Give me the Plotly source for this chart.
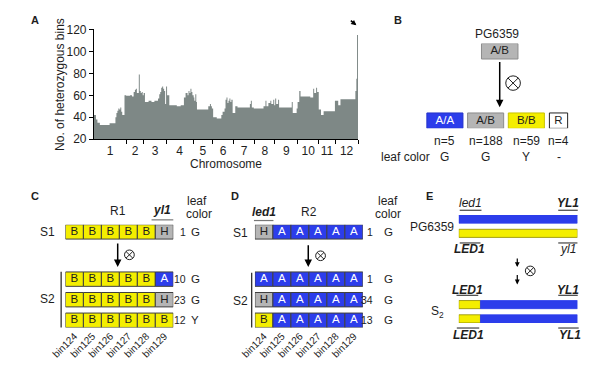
import plotly.graph_objects as go

W, H = 607, 380
FONT = "Liberation Sans, Arial, Helvetica, sans-serif"
INK = "#1e1e1e"
BLUE = "#2C3DEB"
YELLOW = "#F4EE00"
GRAY = "#B5B5B5"
AREA = "#7E8886"

# ---------------- Panel A data ----------------
bin_pos = [0, 2, 3.5, 6, 16, 22, 23, 24, 25, 26,
           27, 28, 29, 31.3, 33, 37, 39, 40.7, 42, 43,
           44, 46, 47, 48, 49, 50, 51, 52.3, 56, 59,
           62, 65.7, 67, 68, 69, 70, 71, 72, 73, 74,
           75, 77.3, 85, 89, 92.3, 94, 96, 97, 98, 99,
           100, 101, 102.3, 103, 104, 105, 105.7, 117.3, 119, 120,
           121, 122.3, 126, 130.7, 132, 134, 135, 136, 137, 138,
           139, 140, 141, 142.3, 145, 147.3, 160, 161, 162, 164,
           174, 176, 177, 179, 181, 182, 184, 185, 186, 187,
           189, 190, 203, 204, 207.3, 208, 209, 210.7, 212, 219,
           222, 225, 226, 228, 229, 230.7, 233, 235.7, 247.3, 250.7,
           253, 268.3, 269.3, 270, 271]
het_bins = [42, 38, 35, 33, 34.5, 40, 44, 46, 48, 47,
            49, 45, 42, 60, 59.5, 60, 59, 63, 65, 66,
            62, 79, 64, 62, 63, 60, 62, 54, 55, 54,
            55, 57, 61, 63, 67, 68, 66, 64, 52, 68,
            60, 51, 50, 51, 58, 62, 60, 64, 62, 66,
            63, 60, 58, 55, 61, 54, 47, 50, 52, 50,
            48, 40, 39, 42, 45, 48, 56, 58, 53, 55,
            57, 54, 56, 44, 50, 49, 52, 55, 49, 48,
            50, 55, 50, 53, 55, 52, 56, 51, 57, 52,
            56, 49, 54, 44, 44, 48, 54, 64, 59, 59,
            58, 66, 62, 67, 63, 47, 42, 45.5, 55, 51,
            56.5, 64, 75, 115, 115]
chrom_ends = [33.3, 51.3, 74, 101.7, 121.7, 143.3, 165, 185.7, 209, 230.7, 247.5, 271]
chrom_names = ["1", "2", "3", "4", "5", "6", "7", "8", "9", "10", "11", "12"]
y_ticks = [20, 40, 60, 80, 100, 120]

# ---------------- Panel B data ----------------
b_parent = "PG6359"
b_parent_geno = "A/B"
b_classes = ["A/A", "A/B", "B/B", "R"]
b_counts = [5, 188, 59, 4]
b_leaf = ["G", "G", "Y", "-"]

# ---------------- Panels C / D data ----------------
bins = ["bin124", "bin125", "bin126", "bin127", "bin128", "bin129"]
c_rows = [["B", "B", "B", "B", "B", "H"],
          ["B", "B", "B", "B", "B", "A"],
          ["B", "B", "B", "B", "B", "H"],
          ["B", "B", "B", "B", "B", "B"]]
c_counts = [1, 10, 23, 12]
c_leaf = ["G", "G", "G", "Y"]
d_rows = [["H", "A", "A", "A", "A", "A"],
          ["A", "A", "A", "A", "A", "A"],
          ["H", "A", "A", "A", "A", "A"],
          ["B", "A", "A", "A", "A", "A"]]
d_counts = [1, 1, 34, 13]
d_leaf = ["G", "G", "G", "G"]

# ---------------- Panel E data ----------------
e_breakpoint = 0.183
e_homologs = [["A"], ["B"], ["B", "A"], ["B", "A"]]
e_breaks = [[], [], [e_breakpoint], [e_breakpoint]]

geno_fill = {"A": BLUE, "B": YELLOW, "H": GRAY}
geno_text = {"A": "white", "B": INK, "H": INK}


def fx(px):
    return px / W


def fy(py):
    return 1 - py / H


fig = go.Figure()
ann = []
shp = []


def txt(px, py, s, size=12, xanchor="center", color=INK, family=FONT, **kw):
    d = dict(x=fx(px), y=fy(py), xref="paper", yref="paper", text=s, showarrow=False,
             xanchor=xanchor, yanchor="middle", font=dict(size=size, color=color, family=family))
    d.update(kw)
    return d


def arrow(px, py, dy, width=1.5, size=1.0):
    return dict(x=fx(px), y=fy(py), xref="paper", yref="paper", text="", showarrow=True,
                ax=0, ay=-dy, axref="pixel", ayref="pixel", arrowhead=2, arrowsize=size,
                arrowwidth=width, arrowcolor="black", standoff=0, startstandoff=0)


def line(x0, y0, x1, y1, color=INK, width=1):
    return dict(type="line", xref="paper", yref="paper", x0=fx(x0), y0=fy(y0), x1=fx(x1), y1=fy(y1),
                line=dict(color=color, width=width))


def otimes(cx, cy, r, width=1):
    out = [dict(type="circle", xref="paper", yref="paper", x0=fx(cx - r), x1=fx(cx + r),
                y0=fy(cy + r), y1=fy(cy - r), line=dict(color=INK, width=width))]
    k = r * 0.7071
    out.append(line(cx - k, cy - k, cx + k, cy + k, width=width))
    out.append(line(cx - k, cy + k, cx + k, cy - k, width=width))
    return out


# ================= Panel A =================
fig.add_trace(go.Scatter(x=bin_pos, y=het_bins, mode="lines", line=dict(width=0, shape="hv"),
                         fill="tozeroy", fillcolor=AREA, hoverinfo="skip", xaxis="x", yaxis="y"))
chrom_starts = [0] + chrom_ends[:-1]
chrom_mid = [(a + b) / 2 for a, b in zip(chrom_starts, chrom_ends)]
ann.append(txt(21, 14, "<b>A</b>", size=11))
ann.append(txt(46, 80, "No. of heterozygous bins", size=12, textangle=-90))
ann.append(txt(216, 163.5, "Chromosome", size=12))
ann.append(dict(x=fx(350), y=fy(19), xref="paper", yref="paper", text="", showarrow=True,
                ax=-7, ay=-6, arrowhead=2, arrowsize=0.7, arrowwidth=1.5, arrowcolor="black"))

# ================= Panel B =================
b_slot = [0, 1, 2, 2.79]
b_w = [0.886, 0.886, 0.886, 0.448]
parent_slot = 1.346
bh = 0.222
fig.add_trace(go.Bar(
    x=b_slot + [parent_slot], y=[bh] * 5, base=[-bh / 2] * 4 + [1 - bh / 2], width=b_w + [0.896],
    marker=dict(color=[BLUE, GRAY, YELLOW, "white", GRAY],
                line=dict(color=["#2433c8", "#8c8c8c", "#c9c200", "#222222", "#8c8c8c"], width=1)),
    hoverinfo="skip", xaxis="x2", yaxis="y2"))
fig.add_trace(go.Scatter(
    x=b_slot + [parent_slot], y=[0] * 4 + [1], mode="text", text=b_classes + [b_parent_geno],
    textfont=dict(size=11.5, family=FONT, color=["white", INK, INK, INK, INK]),
    hoverinfo="skip", xaxis="x2", yaxis="y2"))
ann.append(txt(393, 14, "<b>B</b>", size=11))
ann.append(txt(494, 28, b_parent, size=12))
ann.append(dict(x=parent_slot, y=fy(104), xref="x2", yref="paper", text="", showarrow=True,
                ax=0, ay=-46.7, arrowhead=2, arrowsize=1, arrowwidth=1.5, arrowcolor="black", standoff=0))
shp += otimes(510.7, 79, 7.5)
for s, n, lf in zip(b_slot, b_counts, b_leaf):
    ann.append(dict(x=s, y=fy(139.3), xref="x2", yref="paper", text=f"n={n}", showarrow=False,
                    yanchor="middle", font=dict(size=12, color=INK, family=FONT)))
    ann.append(dict(x=s, y=fy(156), xref="x2", yref="paper", text=lf, showarrow=False,
                    yanchor="middle", font=dict(size=12, color=INK, family=FONT)))
ann.append(txt(428, 156, "leaf color", size=12, xanchor="right"))

# ================= Panels C / D =================
rows_y = [0, 2.3, 3.3, 4.3]
cell_h = 0.70


def add_grid(rows, xa, ya):
    xs, bases, cols, tys, tts, tcs = [], [], [], [], [], []
    for r, g in zip(rows_y, rows):
        for b, v in zip(bins, g):
            xs.append(b)
            bases.append(r - cell_h / 2)
            cols.append(geno_fill[v])
            tys.append(r)
            tts.append(v)
            tcs.append(geno_text[v])
    fig.add_trace(go.Bar(x=xs, y=[cell_h] * len(xs), base=bases, width=1,
                         marker=dict(color=cols, line=dict(color="#404040", width=1)),
                         hoverinfo="skip", xaxis=xa, yaxis=ya))
    fig.add_trace(go.Scatter(x=xs, y=tys, mode="text", text=tts,
                             textfont=dict(size=11.5, family=FONT, color=tcs),
                             hoverinfo="skip", xaxis=xa, yaxis=ya))


add_grid(c_rows, "x3", "y3")
add_grid(d_rows, "x4", "y4")

for (num_x, let_x, counts, leafs, yref) in [(177.2, 185, c_counts, c_leaf, "y3"),
                                            (369, 382.5, d_counts, d_leaf, "y4")]:
    for r, n, lf in zip(rows_y, counts, leafs):
        ann.append(dict(x=fx(num_x), y=r, xref="paper", yref=yref, text=str(n), showarrow=False,
                        xanchor="right", yanchor="middle", font=dict(size=10.5, color=INK, family=FONT)))
        ann.append(dict(x=fx(let_x), y=r, xref="paper", yref=yref, text=lf, showarrow=False,
                        xanchor="center", yanchor="middle", font=dict(size=11.5, color=INK, family=FONT)))

# C headers
ann.append(txt(21, 196.5, "<b>C</b>", size=11))
ann.append(txt(106, 212.3, "R1", size=12))
ann.append(txt(151, 211, "<b><i>yl1</i></b>", size=12))
shp.append(line(140, 221, 162.3, 221, color="#777777", width=1.2))
ann.append(txt(187, 201.7, "leaf", size=12))
ann.append(txt(189, 215, "color", size=12))
ann.append(txt(33.3, 233.5, "S1", size=12))
ann.append(txt(33.3, 303.5, "S2", size=12))
shp.append(line(47.3, 275, 47.3, 332.7, width=1.2))
ann.append(arrow(105.3, 270, 25))
shp += otimes(117.3, 257.3, 5)

# D headers
ann.append(txt(226, 196.5, "<b>D</b>", size=11))
ann.append(txt(255, 213.3, "<b><i>led1</i></b>", size=12))
shp.append(line(245, 221.7, 265, 221.7, color="#777777", width=1.2))
ann.append(txt(301.7, 213, "R2", size=12))
ann.append(txt(382.7, 201.7, "leaf", size=12))
ann.append(txt(382.7, 215, "color", size=12))
ann.append(txt(231.7, 234.7, "S1", size=12))
ann.append(txt(231.7, 305, "S2", size=12))
shp.append(line(242.7, 276, 242.7, 332.7, width=1.2))
ann.append(arrow(300.7, 270, 23.3))
shp += otimes(313.3, 258.3, 5)

# ================= Panel E =================
e_rows = [0, 1, 6, 7]
e_h = 0.57
ex, ey, eb, ec, el = [], [], [], [], []
for r, genos, brk in zip(e_rows, e_homologs, e_breaks):
    edges = [0] + brk + [1]
    for g, a, b in zip(genos, edges[:-1], edges[1:]):
        ex.append(b - a)
        eb.append(a)
        ey.append(r)
        ec.append(geno_fill[g])
        el.append("#8f8a00" if g == "B" else BLUE)
fig.add_trace(go.Bar(x=ex, y=ey, base=eb, orientation="h", width=e_h,
                     marker=dict(color=ec, line=dict(color=el, width=0.8)),
                     hoverinfo="skip", xaxis="x5", yaxis="y5"))

ann.append(txt(425, 196.7, "<b>E</b>", size=11))
ann.append(txt(467.3, 204, "<i>led1</i>", size=12))
ann.append(txt(567.3, 204, "<b><i>YL1</i></b>", size=12))
shp.append(line(456, 211, 478.3, 211))
shp.append(line(557, 211, 577, 211))
ann.append(txt(452, 228.5, b_parent, size=12, xanchor="right"))
shp.append(line(456, 245, 477.3, 245))
shp.append(line(557, 245, 576.7, 245))
ann.append(txt(466, 251.5, "<b><i>LED1</i></b>", size=12))
ann.append(txt(567, 251.5, "<i>yl1</i>", size=12))
ann.append(arrow(515, 270, 10, width=1.2, size=0.8))
ann.append(arrow(515, 288, 11, width=1.2, size=0.8))
shp += otimes(528.3, 274, 5)
ann.append(txt(463.7, 294, "<b><i>LED1</i></b>", size=12))
ann.append(txt(567.3, 294, "<b><i>YL1</i></b>", size=12))
shp.append(line(452.7, 299.3, 475, 299.3))
shp.append(line(557, 299.3, 577, 299.3))
ann.append(txt(433, 317, "S<sub>2</sub>", size=12))
shp.append(line(453, 333.3, 476, 333.3))
shp.append(line(557, 333.3, 578, 333.3))
ann.append(txt(465, 341, "<b><i>LED1</i></b>", size=12))
ann.append(txt(569, 341, "<b><i>YL1</i></b>", size=12))

hidden = dict(visible=False, showgrid=False, zeroline=False)
fig.update_layout(
    width=W, height=H, margin=dict(l=0, r=0, t=0, b=0),
    paper_bgcolor="white", plot_bgcolor="rgba(0,0,0,0)",
    showlegend=False, barmode="overlay",
    font=dict(family=FONT, color=INK, size=12),
    xaxis=dict(domain=[fx(81), fx(351.7)], range=[0, chrom_ends[-1]], tickmode="array",
               tickvals=chrom_mid, ticktext=chrom_names, ticks="", showline=True,
               linecolor="black", linewidth=1.2, showgrid=False, zeroline=False,
               tickfont=dict(size=12, color=INK),
               minor=dict(tickmode="array", tickvals=chrom_ends, ticks="outside", ticklen=4,
                          tickwidth=1.2, tickcolor="black", showgrid=False)),
    yaxis=dict(domain=[fy(137.3), fy(23.3)], range=[20, 120], tickmode="array", tickvals=y_ticks,
               ticks="outside", ticklen=4, tickwidth=1.2, tickcolor="black", showline=True,
               linecolor="black", linewidth=1.2, showgrid=False, zeroline=False,
               tickfont=dict(size=12, color=INK)),
    xaxis2=dict(domain=[fx(415), fx(575)], range=[(415 - 440.8) / 41.75, (575 - 440.8) / 41.75],
                anchor="y2", **hidden),
    yaxis2=dict(domain=[fy(126), fy(38)], range=[-0.111, 1.111], anchor="x2", **hidden),
    xaxis3=dict(domain=[fx(51.7), fx(162.3)], type="category", categoryarray=bins,
                range=[-0.5, 5.5], anchor="y3", tickangle=-45, ticks="", showline=False,
                showgrid=False, zeroline=False, tickfont=dict(size=10, color=INK)),
    yaxis3=dict(domain=[fy(332.7), fy(226)], range=[4.65, -0.35], anchor="x3", **hidden),
    xaxis4=dict(domain=[fx(246), fx(356.7)], type="category", categoryarray=bins,
                range=[-0.5, 5.5], anchor="y4", tickangle=-45, ticks="", showline=False,
                showgrid=False, zeroline=False, tickfont=dict(size=10, color=INK)),
    yaxis4=dict(domain=[fy(332.7), fy(226)], range=[4.65, -0.35], anchor="x4", **hidden),
    xaxis5=dict(domain=[fx(455), fx(576.7)], range=[0, 1], anchor="y5", **hidden),
    yaxis5=dict(domain=[fy(328), fy(216)], range=[7.285, -0.285], anchor="x5", **hidden),
    annotations=ann, shapes=shp,
)

fig.write_html("out.html", config={"displayModeBar": False},
               post_script="document.body.style.margin='0';document.body.style.overflow='hidden';")
